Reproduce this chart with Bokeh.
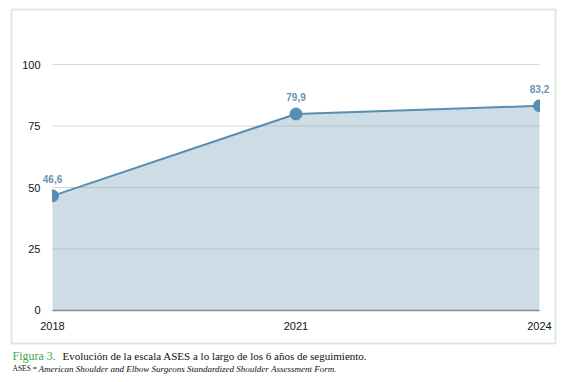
import numpy as np
from bokeh.plotting import figure
from bokeh.models import Label, FixedTicker, ColumnDataSource, BoxAnnotation
from bokeh.core.properties import value
from bokeh.embed import file_html
from bokeh.resources import INLINE

years = [2018, 2021, 2024]
ases = [46.6, 79.9, 83.2]
point_labels = ["46,6", "79,9", "83,2"]
y_ticks = [0, 25, 50, 75, 100]
grid_levels = [25, 50, 75, 100]
caption_fig = "Figura 3."
caption_text = "Evolución de la escala ASES a lo largo de los 6 años de seguimiento."
note_abbr = "ASES ="
note_text = "American Shoulder and Elbow Surgeons Standardized Shoulder Assessment Form."

LINE = "#5a8db0"
AREA = "#cddde6"
GREEN = "#84c17f"

p = figure(width=567, height=382, output_backend="svg", toolbar_location=None,
           x_range=(2017.3594, 2024.345), y_range=(-29.27, 126.02),
           min_border=0)
p.outline_line_color = None
p.background_fill_color = "white"
p.border_fill_color = "white"
p.xgrid.grid_line_color = None
p.ygrid.grid_line_color = None

# green frame around the chart
p.add_layout(BoxAnnotation(left=11, right=555, bottom=39, top=373,
                           left_units="screen", right_units="screen",
                           bottom_units="screen", top_units="screen",
                           fill_alpha=0, line_color=GREEN, line_width=2))

# area and grid
p.varea(x=years, y1=[0] * len(years), y2=ases, fill_color=AREA)
p.segment(x0=[years[0]] * len(grid_levels), x1=[years[-1]] * len(grid_levels),
          y0=grid_levels, y1=grid_levels, line_color="#999999", line_alpha=0.38, line_width=1.2)
p.line(x=years, y=ases, line_color=LINE, line_width=2)

# markers, clipped at the ends like the original
start_angles = [-np.pi / 2, 0, np.pi / 2]
end_angles = [np.pi / 2, 2 * np.pi, 3 * np.pi / 2]
p.wedge(x=years, y=ases, radius=6, radius_units="screen",
        start_angle=start_angles, end_angle=end_angles,
        fill_color=LINE, line_color=LINE)

src = ColumnDataSource(dict(x=years, y=ases, t=point_labels))
p.text(x="x", y="y", text="t", source=src, y_offset=-13,
       text_align="center", text_baseline="bottom",
       text_font=value("Liberation Sans"), text_font_size="10px",
       text_font_style="bold", text_color="#6b93b3")

# axes
p.xaxis.fixed_location = 0
p.xaxis.bounds = (years[0], years[-1])
p.xaxis.ticker = FixedTicker(ticks=years)
p.xaxis.axis_line_color = "#8a8a8a"
p.xaxis.axis_line_width = 1.5
p.xaxis.major_tick_line_color = None
p.xaxis.minor_tick_line_color = None
p.xaxis.major_label_standoff = 6
p.xaxis.major_label_text_font = "Liberation Sans"
p.xaxis.major_label_text_font_size = "11px"
p.xaxis.major_label_text_color = "#111111"

p.yaxis.fixed_location = years[0]
p.yaxis.bounds = (y_ticks[0], y_ticks[-1])
p.yaxis.ticker = FixedTicker(ticks=y_ticks)
p.yaxis.axis_line_color = None
p.yaxis.major_tick_line_color = None
p.yaxis.minor_tick_line_color = None
p.yaxis.major_label_standoff = 6
p.yaxis.major_label_text_font = "Liberation Sans"
p.yaxis.major_label_text_font_size = "11px"
p.yaxis.major_label_text_color = "#111111"

# caption
p.add_layout(Label(x=12, y=27, x_units="screen", y_units="screen", text=caption_fig,
                   text_font="Liberation Serif", text_font_size="12px", text_color="#3fa34d",
                   text_baseline="middle"))
p.add_layout(Label(x=62, y=27, x_units="screen", y_units="screen", text=caption_text,
                   text_font="Liberation Serif", text_font_size="11px", text_color="#111111",
                   text_baseline="middle"))
p.add_layout(Label(x=12, y=14, x_units="screen", y_units="screen", text=note_abbr,
                   text_font="Liberation Serif", text_font_size="7.5px", text_color="#111111",
                   text_baseline="middle"))
p.add_layout(Label(x=38, y=14, x_units="screen", y_units="screen", text=note_text,
                   text_font="Liberation Serif", text_font_size="9px", text_font_style="italic",
                   text_color="#111111", text_baseline="middle"))

open("out.html", "w").write(file_html(p, INLINE))
